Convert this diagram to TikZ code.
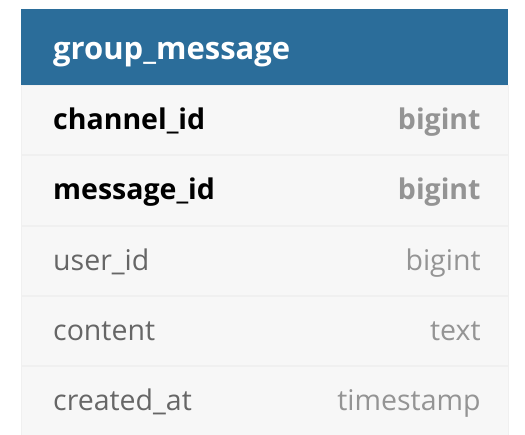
\documentclass[tikz,border=0pt]{standalone}
\usepackage{fontspec}
\setmainfont{Open Sans}
\usepackage{xcolor}
\usetikzlibrary{positioning}
\usetikzlibrary{calc}
\definecolor{hdrblue}{HTML}{2B6D9A}
\definecolor{rowbg}{HTML}{F7F7F7}
\definecolor{rowline}{HTML}{F0F0F0}
\definecolor{namegray}{HTML}{666666}
\definecolor{typegray}{HTML}{949494}
\begin{document}
\begin{tikzpicture}[x=1pt,y=-1pt]
    \tikzstyle{every node}=[font=\fontsize{28.5}{32}\selectfont, inner sep=0pt]
    \tikzstyle{hdrbox}=[fill=hdrblue, minimum width=487pt, minimum height=76pt, anchor=north west]
    \tikzstyle{rowbox}=[fill=rowbg, draw=rowline, line width=0.8pt, minimum width=487pt, minimum height=69.5pt, anchor=north west]
    \tikzstyle{keyname}=[anchor=base west, font=\fontsize{28.5}{32}\selectfont\bfseries, text=black]
    \tikzstyle{keytype}=[anchor=base east, font=\fontsize{28.5}{32}\selectfont\bfseries, text=typegray]
    \tikzstyle{colname}=[anchor=base west, text=namegray]
    \tikzstyle{coltype}=[anchor=base east, text=typegray]
    \useasboundingbox (0,0) rectangle (525,435);
    \node[rowbox] (r1) at (21,85) {}; %
    \node[rowbox] (r2) at ($(r1.south west)$) {}; %
    \node[rowbox] (r3) at ($(r2.south west)$) {}; %
    \node[rowbox] (r4) at ($(r3.south west)$) {}; %
    \node[rowbox] (r5) at ($(r4.south west)$) {}; %
    \node[hdrbox] (hdr) at (21,9) {}; %
    \node[anchor=base west, font=\fontsize{31}{36}\selectfont\bfseries, text=white] (title) at ($(hdr.west)+(32,12)$) {group\_message}; %
    \node[keyname] (n1) at ($(r1.west)+(32,9.5)$) {channel\_id}; %
    \node[keytype] (t1) at ($(r1.east)+(-28,9.5)$) {bigint}; %
    \node[keyname] (n2) at ($(r2.west)+(32,9.5)$) {message\_id}; %
    \node[keytype] (t2) at ($(r2.east)+(-28,9.5)$) {bigint}; %
    \node[colname] (n3) at ($(r3.west)+(32,9.5)$) {user\_id}; %
    \node[coltype] (t3) at ($(r3.east)+(-28,9.5)$) {bigint}; %
    \node[colname] (n4) at ($(r4.west)+(32,9.5)$) {content}; %
    \node[coltype] (t4) at ($(r4.east)+(-28,9.5)$) {text}; %
    \node[colname] (n5) at ($(r5.west)+(32,9.5)$) {created\_at}; %
    \node[coltype] (t5) at ($(r5.east)+(-28,9.5)$) {timestamp}; %
\end{tikzpicture}
\end{document}
